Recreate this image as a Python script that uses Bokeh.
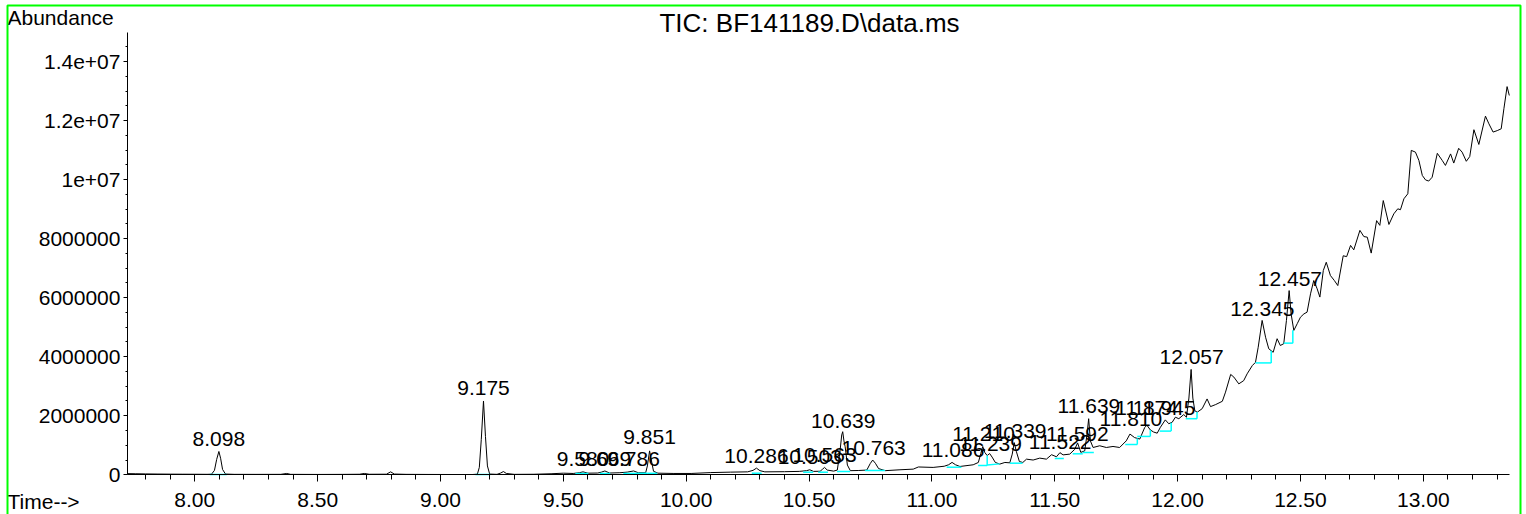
from bokeh.plotting import figure
from bokeh.models import Range1d, FixedTicker, Label, BoxAnnotation
from bokeh.embed import file_html
from bokeh.resources import INLINE
from bokeh.core.properties import value

# ---------------- data ----------------
rt = [7.726, 7.76, 7.80, 7.85, 7.90, 7.95, 8.00, 8.05, 8.068, 8.080, 8.089, 8.098, 8.105, 8.113, 8.125,
      8.16, 8.25, 8.35, 8.374, 8.39, 8.50, 8.60, 8.67, 8.69, 8.71, 8.78, 8.797, 8.812, 8.86, 8.95,
      9.05, 9.13, 9.150, 9.158, 9.166, 9.175, 9.183, 9.191, 9.200, 9.23, 9.245, 9.256, 9.268, 9.30,
      9.38, 9.45, 9.50, 9.54, 9.565, 9.580, 9.600, 9.64, 9.655, 9.669, 9.688, 9.73, 9.760, 9.786,
      9.805, 9.835, 9.842, 9.851, 9.858, 9.867, 9.885, 9.95, 10.02, 10.10, 10.18, 10.25, 10.272,
      10.286, 10.300, 10.32, 10.40, 10.46, 10.490, 10.503, 10.518, 10.545, 10.555, 10.563, 10.574,
      10.600, 10.615, 10.626, 10.633, 10.637, 10.642, 10.647, 10.656, 10.668, 10.70, 10.735, 10.749,
      10.759, 10.770, 10.783, 10.81, 10.87, 10.924, 10.945, 11.005, 11.050, 11.068, 11.082, 11.096,
      11.114, 11.168, 11.189, 11.199, 11.207, 11.215, 11.225, 11.235, 11.245, 11.258, 11.276, 11.297,
      11.317, 11.327, 11.335, 11.344, 11.356, 11.370, 11.385, 11.412, 11.439, 11.466, 11.487, 11.507,
      11.521, 11.534, 11.561, 11.581, 11.593, 11.606, 11.622, 11.631, 11.638, 11.645, 11.656, 11.683,
      11.710, 11.737, 11.764, 11.791, 11.806, 11.825, 11.846, 11.866, 11.875, 11.889, 11.902, 11.917,
      11.930, 11.950, 11.964, 11.978, 11.991, 12.005, 12.025, 12.036, 12.046, 12.055, 12.062, 12.070,
      12.080, 12.100, 12.120, 12.134, 12.155, 12.182, 12.195, 12.216, 12.229, 12.249, 12.269, 12.283,
      12.304, 12.317, 12.328, 12.344, 12.358, 12.371, 12.389, 12.405, 12.418, 12.432, 12.443, 12.454,
      12.462, 12.473, 12.487, 12.500, 12.514, 12.527, 12.541, 12.554, 12.568, 12.579, 12.593, 12.605,
      12.622, 12.638, 12.652, 12.674, 12.688, 12.704, 12.717, 12.742, 12.758, 12.772, 12.788, 12.810,
      12.823, 12.837, 12.860, 12.880, 12.896, 12.907, 12.921, 12.937, 12.951, 12.968, 12.982, 12.996,
      13.009, 13.022, 13.036, 13.057, 13.077, 13.090, 13.111, 13.124, 13.144, 13.158, 13.175, 13.189,
      13.206, 13.226, 13.253, 13.267, 13.284, 13.301, 13.317, 13.328, 13.341, 13.350]

abundance = [40000, 35000, 30000, 25000, 22000, 20000, 18000, 16000, 20000, 150000, 520000, 790000, 560000, 180000, 25000,
             15000, 14000, 15000, 45000, 15000, 12000, 14000, 18000, 45000, 18000, 20000, 100000, 25000, 15000, 12000,
             10000, 10000, 20000, 250000, 1200000, 2500000, 1300000, 300000, 25000, 15000, 60000, 110000, 45000, 15000,
             18000, 35000, 55000, 45000, 70000, 100000, 55000, 60000, 90000, 130000, 60000, 70000, 90000, 130000,
             70000, 70000, 300000, 810000, 500000, 120000, 55000, 45000, 45000, 75000, 90000, 100000, 150000,
             225000, 140000, 100000, 105000, 115000, 140000, 170000, 115000, 120000, 190000, 250000, 160000,
             125000, 160000, 800000, 1350000, 1460000, 1150000, 950000, 330000, 140000, 145000, 160000, 380000,
             500000, 390000, 210000, 140000, 170000, 192000, 265000, 250000, 290000, 340000, 420000, 340000,
             282000, 339000, 418000, 720000, 960000, 760000, 650000, 720000, 600000, 420000, 362000, 418000,
             405000, 700000, 1090000, 780000, 450000, 417000, 530000, 500000, 565000, 530000, 680000, 610000,
             750000, 675000, 700000, 860000, 1080000, 760000, 810000, 1350000, 1900000, 1150000, 925000, 983000,
             925000, 960000, 925000, 1150000, 1380000, 1260000, 1210000, 1600000, 1680000, 1520000, 1450000, 1410000,
             1610000, 1860000, 1730000, 1780000, 1950000, 1900000, 2040000, 1950000, 2600000, 3570000, 2600000, 2170000,
             2120000, 2240000, 2570000, 2310000, 2380000, 2490000, 2800000, 3400000, 3310000, 3080000, 3190000, 3420000,
             3700000, 3810000, 4320000, 5230000, 4660000, 4270000, 4150000, 4610000, 4380000, 4440000, 5230000, 6240000,
             5450000, 4890000, 5120000, 5340000, 5450000, 5510000, 6130000, 6580000, 6300000, 6020000, 6920000, 7200000,
             6750000, 6580000, 6410000, 7420000, 7390000, 7770000, 7620000, 8280000, 8070000, 8050000, 7510000, 8610000,
             8450000, 9290000, 8480000, 8840000, 9010000, 8980000, 9350000, 9520000, 10990000, 10930000, 10650000, 10140000,
             9990000, 9950000, 10080000, 10890000, 10650000, 10480000, 10870000, 10560000, 11060000, 10930000, 10620000, 10780000,
             11690000, 11190000, 12150000, 11890000, 11610000, 11660000, 11720000, 12400000, 13150000, 12850000]

peak_rt = [8.098, 9.175, 9.580, 9.669, 9.786, 9.851, 10.286, 10.503, 10.563, 10.639, 10.763, 11.086,
           11.210, 11.239, 11.339, 11.522, 11.592, 11.639, 11.810, 11.874, 11.945, 12.057, 12.345, 12.457]
peak_labels = ["8.098", "9.175", "9.580", "9.669", "9.786", "9.851", "10.286", "10.503", "10.563", "10.639",
               "10.763", "11.086", "11.210", "11.239", "11.339", "11.522", "11.592", "11.639", "11.810",
               "11.874", "11.945", "12.057", "12.345", "12.457"]
peak_height = [800000, 2520000, 122000, 122000, 122000, 857000, 237000, 180000, 271000, 1430000, 518000, 417000,
               969000, 630000, 1090000, 688000, 969000, 1930000, 1470000, 1840000, 1870000, 3570000, 5200000, 6220000]

# integration baselines (start time, end time, start abundance, end abundance)
bl_t0 = [8.061, 9.142, 9.549, 9.648, 9.744, 9.841, 10.267, 10.476, 10.537, 10.614, 10.728, 11.060,
         11.188, 11.225, 11.317, 11.500, 11.573, 11.614, 11.787, 11.836, 11.927, 12.033, 12.317, 12.432]
bl_t1 = [8.130, 9.203, 9.602, 9.691, 9.841, 9.882, 10.307, 10.517, 10.577, 10.667, 10.809, 11.120,
         11.225, 11.276, 11.369, 11.537, 11.614, 11.659, 11.836, 11.889, 11.974, 12.079, 12.381, 12.469]
bl_a0 = [10000, 10000, 44000, 44000, 44000, 50000, 54000, 88000, 88000, 112000, 146000, 257000,
         315000, 330000, 393000, 552000, 711000, 755000, 1026000, 1300000, 1480000, 1900000, 3790000, 4460000]
bl_a1 = [10000, 10000, 44000, 44000, 50000, 50000, 54000, 88000, 88000, 112000, 146000, 257000,
         315000, 370000, 393000, 552000, 711000, 755000, 1026000, 1300000, 1480000, 1900000, 3790000, 4460000]

# drop lines at peak boundaries
drop_t = [11.225, 11.836, 11.889, 11.974, 12.079, 12.381, 12.469]
drop_lo = [315000, 1026000, 1300000, 1480000, 1900000, 3790000, 4460000]
drop_hi = [650000, 1235000, 1520000, 1765000, 2125000, 4200000, 4900000]

x_tick_values = [8.0, 8.5, 9.0, 9.5, 10.0, 10.5, 11.0, 11.5, 12.0, 12.5, 13.0]
x_tick_labels = ["8.00", "8.50", "9.00", "9.50", "10.00", "10.50", "11.00", "11.50", "12.00", "12.50", "13.00"]
y_tick_values = [0, 2000000, 4000000, 6000000, 8000000, 10000000, 12000000, 14000000]
y_tick_labels = ["0", "2000000", "4000000", "6000000", "8000000", "1e+07", "1.2e+07", "1.4e+07"]

x_axis_bounds = (7.726, 13.352)
y_axis_bounds = (0, 14970000)

title_text = "TIC: BF141189.D\\data.ms"
y_title = "Abundance"
x_title = "Time-->"

# ---------------- plot ----------------
FONT = "Liberation Sans"
FS = "21px"
W, H = 1526, 514

# the frame fills the whole page; axes are pinned inside it
p = figure(width=W, height=H, output_backend="svg", toolbar_location=None,
           x_range=Range1d(7.2092, 13.4200), y_range=Range1d(-1345000, 16067000),
           min_border=0, min_border_left=0, min_border_right=0, min_border_top=0, min_border_bottom=0)
p.grid.visible = False
p.outline_line_color = None
p.background_fill_color = "white"
p.border_fill_color = "white"

x_minor = [round(7.8 + 0.1 * i, 1) for i in range(56)]
y_minor = [500000 * i for i in range(30)]

xa = p.xaxis[0]
xa.fixed_location = 0
xa.bounds = x_axis_bounds
xa.ticker = FixedTicker(ticks=x_tick_values, minor_ticks=x_minor)
xa.major_label_overrides = dict(zip(x_tick_values, x_tick_labels))
xa.major_label_text_font = FONT
xa.major_label_text_font_size = FS
xa.major_label_text_color = "black"
xa.major_label_standoff = 11
xa.major_tick_in = 0
xa.major_tick_out = 7
xa.minor_tick_in = 0
xa.minor_tick_out = 5
xa.axis_line_color = "black"
xa.major_tick_line_color = "black"
xa.minor_tick_line_color = "black"

ya = p.yaxis[0]
ya.fixed_location = x_axis_bounds[0]
ya.bounds = y_axis_bounds
ya.ticker = FixedTicker(ticks=y_tick_values, minor_ticks=y_minor)
ya.major_label_overrides = dict(zip(y_tick_values, y_tick_labels))
ya.major_label_text_font = FONT
ya.major_label_text_font_size = FS
ya.major_label_text_color = "black"
ya.major_label_standoff = 3
ya.major_tick_in = 0
ya.major_tick_out = 4
ya.minor_tick_in = 0
ya.minor_tick_out = 2
ya.axis_line_color = "black"
ya.major_tick_line_color = "black"
ya.minor_tick_line_color = "black"

# chromatogram trace
p.line(rt, abundance, line_color="black", line_width=1)

# integration baselines and drop lines
p.segment(x0=bl_t0, y0=bl_a0, x1=bl_t1, y1=bl_a1, line_color="#00ffff", line_width=1.5)
p.segment(x0=drop_t, y0=drop_lo, x1=drop_t, y1=drop_hi, line_color="#00ffff", line_width=1.5)

# peak labels
p.text(x=peak_rt, y=peak_height, text=peak_labels, text_font=value(FONT), text_font_size=FS,
       text_align="center", text_baseline="alphabetic", y_offset=-12, text_color="black")

# page texts (screen units, measured from the bottom-left of the page)
p.add_layout(Label(x=7, y=497, x_units="screen", y_units="screen", text=y_title,
                   text_font=FONT, text_font_size=FS, text_baseline="alphabetic", text_color="black"))
p.add_layout(Label(x=7, y=13, x_units="screen", y_units="screen", text=x_title,
                   text_font=FONT, text_font_size=FS, text_baseline="alphabetic", text_color="black"))
p.add_layout(Label(x=809, y=492, x_units="screen", y_units="screen", text=title_text,
                   text_font=FONT, text_font_size="26px", text_align="center", text_baseline="alphabetic",
                   text_color="black"))

# green page frame
p.add_layout(BoxAnnotation(left=7, right=1520, top=509, bottom=-20,
                           left_units="screen", right_units="screen", top_units="screen", bottom_units="screen",
                           fill_alpha=0, line_color="#00ff00", line_alpha=1.0, line_width=2))

open("out.html", "w").write(file_html(p, INLINE))
